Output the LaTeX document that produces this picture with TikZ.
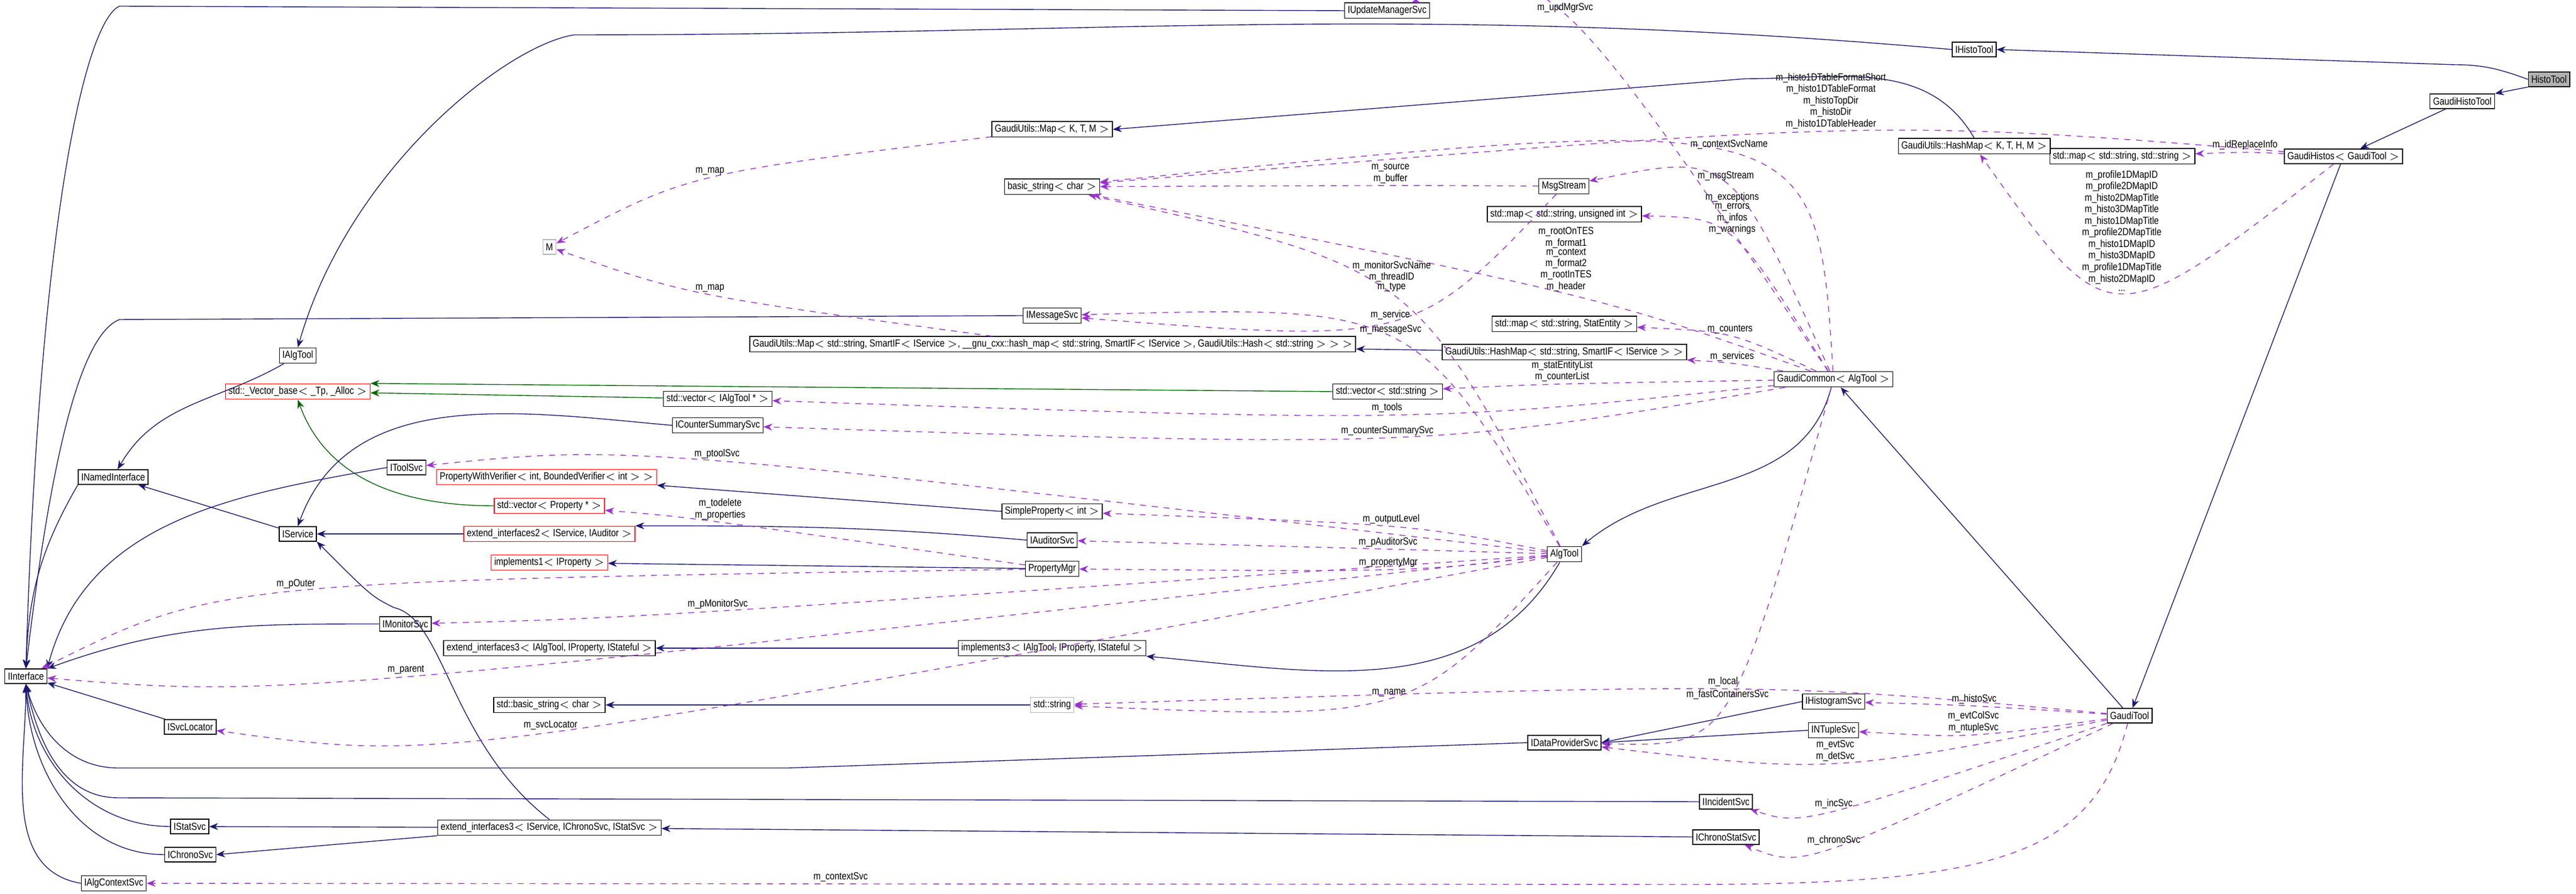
\documentclass[tikz,border=0pt]{standalone}
\usepackage{fontspec}
\setmainfont{Liberation Sans}[FakeStretch=0.84]
\usetikzlibrary{calc}
\usetikzlibrary{arrows.meta}
\definecolor{inhblue}{HTML}{191970}
\definecolor{usepurple}{HTML}{9A32CD}
\definecolor{tmplgreen}{HTML}{006400}
\tikzset{box/.style={draw,rectangle,inner sep=1.5pt,minimum height=0.26cm,font=\fontsize{5.2}{6}\selectfont},
         redbox/.style={box,draw=red},
         graybox/.style={box,draw=gray!60},
         sel/.style={box,fill=gray!60},
         inh/.style={inhblue,-{Stealth[length=4.5pt,width=3.5pt]}},
         tmpl/.style={tmplgreen,-{Stealth[length=4.5pt,width=3.5pt]}},
         use/.style={usepurple,dashed,-{Stealth[length=4.5pt,width=3.5pt]}},
         lbl/.style={font=\fontsize{5.2}{4.6}\selectfont,align=center,anchor=south,inner sep=1pt,text=black}}
% member edge bent through the label position
\newcommand\useedge[4]{%
  \path ($(#1)!.5!(#2)$) coordinate (mid);
  \path #3 coordinate (lp);
  \draw[use] (#1) .. controls ($(lp)!-0.333!(mid)$) .. (#2) node[lbl,pos=.5] {#4};}

\begin{document}
\begin{tikzpicture}
\useasboundingbox (0,0) rectangle (45.76,-15.89);
% classes
\node[box] (upd) at (24.64,-0.19) {IUpdateManagerSvc};
\node[box] (ihisto) at (35.07,-0.88) {IHistoTool};
\node[sel] (histotool) at (45.28,-1.41) {HistoTool};
\node[box] (ghistotool) at (43.74,-1.80) {GaudiHistoTool};
\node[box] (hashkthm) at (35.07,-2.60) {GaudiUtils::HashMap$<$ K, T, H, M $>$};
\node[box] (mapss) at (37.70,-2.78) {std::map$<$ std::string, std::string $>$};
\node[box] (ghistos) at (41.63,-2.78) {GaudiHistos$<$ GaudiTool $>$};
\node[box] (mapktm) at (18.69,-2.30) {GaudiUtils::Map$<$ K, T, M $>$};
\node[box] (bstr) at (18.69,-3.32) {basic\_string$<$ char $>$};
\node[box] (msg) at (27.78,-3.31) {MsgStream};
\node[box] (mapsu) at (27.79,-3.81) {std::map$<$ std::string, unsigned int $>$};
\node[graybox] (m) at (9.76,-4.39) {M};
\node[box] (imsg) at (18.69,-5.61) {IMessageSvc};
\node[box] (mapse) at (27.79,-5.76) {std::map$<$ std::string, StatEntity $>$};
\node[box] (bigmap) at (18.70,-6.12) {GaudiUtils::Map$<$ std::string, SmartIF$<$ IService $>$, \_\_gnu\_cxx::hash\_map$<$ std::string, SmartIF$<$ IService $>$, GaudiUtils::Hash$<$ std::string $>$ $>$ $>$};
\node[box] (hashss) at (27.79,-6.26) {GaudiUtils::HashMap$<$ std::string, SmartIF$<$ IService $>$ $>$};
\node[box] (ialgtool) at (5.29,-6.32) {IAlgTool};
\node[box] (gcommon) at (32.57,-6.74) {GaudiCommon$<$ AlgTool $>$};
\node[redbox] (vbase) at (5.29,-6.96) {std::\_Vector\_base$<$ \_Tp, \_Alloc $>$};
\node[box] (vtool) at (12.75,-7.09) {std::vector$<$ IAlgTool * $>$};
\node[box] (vstr) at (24.65,-6.96) {std::vector$<$ std::string $>$};
\node[box] (icsum) at (12.75,-7.56) {ICounterSummarySvc};
\node[box] (itoolsvc) at (7.22,-8.31) {IToolSvc};
\node[box] (inamed) at (2.01,-8.48) {INamedInterface};
\node[redbox] (pwv) at (9.71,-8.48) {PropertyWithVerifier$<$ int, BoundedVerifier$<$ int $>$ $>$};
\node[redbox] (vprop) at (9.76,-8.99) {std::vector$<$ Property * $>$};
\node[box] (sprop) at (18.69,-9.09) {SimpleProperty$<$ int $>$};
\node[box] (iservice) at (5.29,-9.49) {IService};
\node[redbox] (ext2) at (9.76,-9.49) {extend\_interfaces2$<$ IService, IAuditor $>$};
\node[box] (iaud) at (18.69,-9.60) {IAuditorSvc};
\node[box] (algtool) at (27.79,-9.85) {AlgTool};
\node[redbox] (impl1) at (9.76,-10.00) {implements1$<$ IProperty $>$};
\node[box] (pmgr) at (18.69,-10.11) {PropertyMgr};
\node[box] (imon) at (7.20,-11.09) {IMonitorSvc};
\node[box] (ext3a) at (9.76,-11.52) {extend\_interfaces3$<$ IAlgTool, IProperty, IStateful $>$};
\node[box] (impl3) at (18.69,-11.52) {implements3$<$ IAlgTool, IProperty, IStateful $>$};
\node[box] (iface) at (0.46,-12.02) {IInterface};
\node[box] (bstd) at (9.76,-12.53) {std::basic\_string$<$ char $>$};
\node[graybox] (sstr) at (18.69,-12.53) {std::string};
\node[box] (histsvc) at (32.57,-12.47) {IHistogramSvc};
\node[box] (gtool) at (37.83,-12.72) {GaudiTool};
\node[box] (isvcloc) at (3.38,-12.92) {ISvcLocator};
\node[box] (ntuple) at (32.57,-12.98) {INTupleSvc};
\node[box] (idp) at (27.79,-13.20) {IDataProviderSvc};
\node[box] (iinc) at (30.66,-14.25) {IIncidentSvc};
\node[box] (istat) at (3.37,-14.69) {IStatSvc};
\node[box] (ext3b) at (9.76,-14.71) {extend\_interfaces3$<$ IService, IChronoSvc, IStatSvc $>$};
\node[box] (icstat) at (30.66,-14.88) {IChronoStatSvc};
\node[box] (ichrono) at (3.38,-15.19) {IChronoSvc};
\node[box] (ictx) at (2.02,-15.70) {IAlgContextSvc};

% inheritance
\draw[inh] (histotool.west) to[out=160,in=0] (43.6,-1.15) -- (ihisto.east);
\draw[inh] (histotool.south west) -- (ghistotool.north east);
\draw[inh] (ghistotool) -- (ghistos);
\draw[inh] (ghistos) -- (gtool);
\draw[inh] (gtool) -- (gcommon);
\draw[inh] (gcommon) to[out=-105,in=40] (algtool.north east);
\draw[inh] (algtool) to[out=-120,in=-5] (impl3.south east);
\draw[inh] (impl3) -- (ext3a);
\draw[inh] (ihisto.west) to[out=175,in=0] (10.2,-0.62) .. controls (9.0,-0.8) and (6.2,-3) .. (ialgtool.north);
\draw[inh] (upd.west) -- (2.12,-0.11) .. controls (1.5,-0.4) and (0.7,-4) .. (iface.north);
\draw[inh] (imsg.west) -- (2.12,-5.68) .. controls (1.3,-6.0) and (0.8,-9) .. (iface.north);
\draw[inh] (ialgtool) to[out=-150,in=60] (inamed);
\draw[inh] (inamed.south west) to[out=-120,in=88] (iface.north);
\draw[inh] (hashkthm.north) to[out=120,in=0] (31,-1.4) -- (mapktm.east);
\draw[inh] (hashss) -- (bigmap);
\draw[tmpl] (vstr.west) -- (vbase.north east);
\draw[tmpl] (vtool) -- (vbase);
\draw[tmpl] (vprop.west) to[out=180,in=-70] (vbase.south);
\draw[inh] (icsum.west) to[out=175,in=70] (iservice.north);
\draw[inh] (itoolsvc.west) to[out=190,in=75] (iface.north east);
\draw[inh] (iservice) -- (inamed);
\draw[inh] (ext2) -- (iservice);
\draw[inh] (ext3b.north) .. controls (8.0,-13.2) and (7.9,-11.0) .. (7.0,-10.8) .. controls (6.6,-10.6) .. (iservice.south east);
\draw[inh] (sprop.west) -- (pwv.south east);
\draw[inh] (iaud.west) to[out=175,in=0] (ext2.north east);
\draw[inh] (pmgr) -- (impl1);
\draw[inh] (imon.west) to[out=180,in=20] (iface.north east);
\draw[inh] (isvcloc) -- (iface);
\draw[inh] (sstr) -- (bstd);
\draw[inh] (idp.west) -- (14,-13.65) -- (2.1,-13.65) to[out=180,in=-75] (iface.south);
\draw[inh] (iinc.west) -- (2.1,-14.18) to[out=180,in=-78] (iface.south);
\draw[inh] (histsvc.west) -- (idp.east);
\draw[inh] (ntuple.west) -- (idp.east);
\draw[inh] (icstat) -- (ext3b);
\draw[inh] (ext3b) -- (istat);
\draw[inh] (ext3b.south west) -- (ichrono.east);
\draw[inh] (istat.west) to[out=180,in=-85] (iface.south);
\draw[inh] (ichrono.west) to[out=180,in=-88] (iface.south);
\draw[inh] (ictx.west) to[out=170,in=-90] (iface.south);

% members
\useedge{gcommon}{upd}{(27.76,-0.30)}{m\_updMgrSvc}
\useedge{ghistos}{bstr}{(32.55,-2.35)}{m\_histo1DTableFormatShort\\m\_histo1DTableFormat\\m\_histoTopDir\\m\_histoDir\\m\_histo1DTableHeader}
\useedge{gcommon}{bstr}{(30.61,-2.72)}{m\_contextSvcName}
\useedge{msg}{bstr}{(24.65,-3.30)}{m\_source\\m\_buffer}
\useedge{gcommon}{msg}{(30.61,-3.28)}{m\_msgStream}
\useedge{gcommon}{mapsu}{(30.61,-4.22)}{m\_exceptions\\m\_errors\\m\_infos\\m\_warnings}
\useedge{gcommon}{bstr}{(27.78,-5.22)}{m\_rootOnTES\\m\_format1\\m\_context\\m\_format2\\m\_rootInTES\\m\_header}
\useedge{algtool}{bstr}{(24.65,-5.22)}{m\_monitorSvcName\\m\_threadID\\m\_type}
\useedge{msg}{imsg}{(24.65,-5.70)}{m\_service}
\useedge{algtool}{imsg}{(24.65,-6.00)}{m\_messageSvc}
\useedge{gcommon}{mapse}{(30.61,-5.98)}{m\_counters}
\useedge{gcommon}{hashss}{(30.61,-6.46)}{m\_services}
\useedge{gcommon}{vstr}{(27.76,-6.83)}{m\_statEntityList\\m\_counterList}
\useedge{gcommon}{vtool}{(24.65,-7.36)}{m\_tools}
\useedge{gcommon}{icsum}{(24.65,-7.76)}{m\_counterSummarySvc}
\useedge{mapktm}{m}{(12.73,-3.15)}{m\_map}
\useedge{bigmap}{m}{(12.73,-5.25)}{m\_map}
\useedge{ghistos}{mapss}{(39.85,-2.72)}{m\_idReplaceInfo}
\useedge{ghistos}{hashkthm}{(37.70,-5.18)}{m\_profile1DMapID\\m\_profile2DMapID\\m\_histo2DMapTitle\\m\_histo3DMapTitle\\m\_histo1DMapTitle\\m\_profile2DMapTitle\\m\_histo1DMapID\\m\_histo3DMapID\\m\_profile1DMapTitle\\m\_histo2DMapID\\...}
\useedge{algtool}{itoolsvc}{(12.73,-8.20)}{m\_ptoolSvc}
\useedge{pmgr}{vprop}{(12.73,-9.28)}{m\_todelete\\m\_properties}
\useedge{pmgr}{iface}{(5.28,-10.52)}{m\_pOuter}
\useedge{algtool}{imon}{(12.73,-10.86)}{m\_pMonitorSvc}
\useedge{algtool}{iface}{(7.20,-12.02)}{m\_parent}
\useedge{algtool}{isvcloc}{(9.76,-13.00)}{m\_svcLocator}
\useedge{algtool}{sprop}{(24.64,-9.36)}{m\_outputLevel}
\useedge{algtool}{iaud}{(24.64,-9.76)}{m\_pAuditorSvc}
\useedge{algtool}{pmgr}{(24.64,-10.12)}{m\_propertyMgr}
\useedge{algtool}{sstr}{(24.64,-12.40)}{m\_name}
\useedge{gtool}{sstr}{(30.61,-12.25)}{m\_local}
\useedge{gcommon}{idp}{(30.61,-12.45)}{m\_fastContainersSvc}
\useedge{gtool}{histsvc}{(35.05,-12.55)}{m\_histoSvc}
\useedge{gtool}{ntuple}{(35.05,-13.05)}{m\_evtColSvc\\m\_ntupleSvc}
\useedge{gtool}{idp}{(32.57,-13.55)}{m\_evtSvc\\m\_detSvc}
\useedge{gtool}{iinc}{(32.57,-14.38)}{m\_incSvc}
\useedge{gtool}{icstat}{(32.57,-15.03)}{m\_chronoSvc}
\draw[use] (gtool) .. controls (37.2,-15.2) and (35.5,-15.72) .. (30,-15.72) -- (ictx) node[lbl,pos=.55] {m\_contextSvc};
\end{tikzpicture}
\end{document}
